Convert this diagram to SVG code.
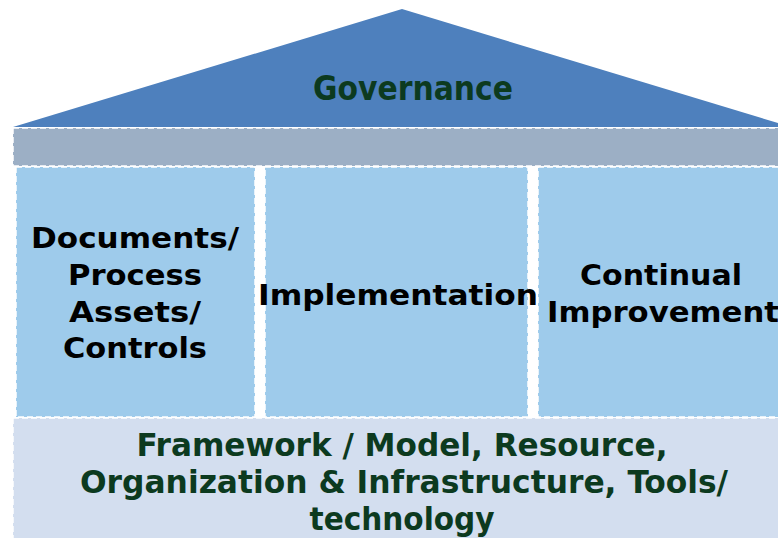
<svg xmlns="http://www.w3.org/2000/svg" width="778" height="538" viewBox="0 0 778 538">
<style>
.dash{stroke:#ffffff;stroke-width:1.5;stroke-dasharray:6 3}
.pillar{fill:#9ecbeb}
.pt{font-family:"DejaVu Sans","Verdana",sans-serif;font-weight:bold;font-size:29px;fill:#000;text-anchor:middle}
.ct{font-family:"DejaVu Sans Condensed","DejaVu Sans",sans-serif;font-stretch:condensed;font-weight:bold;font-size:33px;fill:#0c3a1f;text-anchor:middle}
.bt{font-size:32px}
</style>
<rect width="778" height="538" fill="#ffffff"/>
<g id="roof">
<polygon points="13,127 402,9 791,127" fill="#4e80bd"/>
<text class="ct" x="413" y="100" textLength="200" lengthAdjust="spacingAndGlyphs">Governance</text>
</g>
<g id="beam">
<rect x="13" y="128" width="780" height="38" fill="#9cafc5"/>
<line class="dash" x1="13" y1="128" x2="778" y2="128"/>
<line class="dash" x1="13" y1="166" x2="778" y2="166"/>
<line class="dash" x1="13" y1="128" x2="13" y2="166"/>
</g>
<g id="pillar1">
<rect class="pillar dash" x="16" y="167" width="239" height="250"/>
<text class="pt" x="135" y="248" textLength="208" lengthAdjust="spacingAndGlyphs">Documents/</text>
<text class="pt" x="135" y="285" textLength="134" lengthAdjust="spacingAndGlyphs">Process</text>
<text class="pt" x="135" y="322" textLength="132" lengthAdjust="spacingAndGlyphs">Assets/</text>
<text class="pt" x="135" y="358" textLength="144" lengthAdjust="spacingAndGlyphs">Controls</text>
</g>
<g id="pillar2">
<rect class="pillar dash" x="265" y="167" width="263" height="250"/>
<text class="pt" x="398" y="305" textLength="280" lengthAdjust="spacingAndGlyphs">Implementation</text>
</g>
<g id="pillar3">
<rect class="pillar dash" x="538" y="167" width="250" height="250"/>
<text class="pt" x="661" y="285" textLength="162" lengthAdjust="spacingAndGlyphs">Continual</text>
<text class="pt" x="663" y="322" textLength="232" lengthAdjust="spacingAndGlyphs">Improvement</text>
</g>
<g id="foundation">
<rect x="13" y="418" width="780" height="130" fill="#d3deef"/>
<line class="dash" x1="13" y1="418" x2="778" y2="418"/>
<line class="dash" x1="13" y1="418" x2="13" y2="538"/>
<text class="ct bt" x="402" y="456" textLength="531" lengthAdjust="spacingAndGlyphs">Framework / Model, Resource,</text>
<text class="ct bt" x="404" y="493" textLength="648" lengthAdjust="spacingAndGlyphs">Organization &amp; Infrastructure, Tools/</text>
<text class="ct bt" x="402" y="530" textLength="185" lengthAdjust="spacingAndGlyphs">technology</text>
</g>
<g id="connectors"/>
</svg>
